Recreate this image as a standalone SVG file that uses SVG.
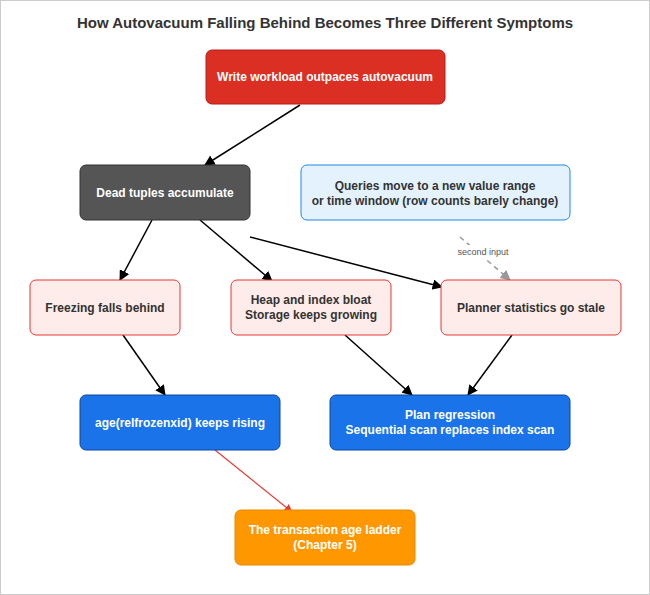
<svg xmlns="http://www.w3.org/2000/svg" width="650" height="595" viewBox="0 0 650 595">
<style>
text{font-family:"Liberation Sans",Arial,sans-serif;font-weight:bold;font-size:12px;text-anchor:middle}
.w{fill:#fff}.d{fill:#333}
.e{stroke:#000;stroke-width:1.5;fill:none;marker-end:url(#a)}
</style>
<defs>
<marker id="a" viewBox="0 0 10 10" refX="9" refY="5" markerWidth="7" markerHeight="7" orient="auto"><path d="M0,0L10,5L0,10z" fill="#000"/></marker>
<marker id="g" viewBox="0 0 10 10" refX="9" refY="5" markerWidth="7" markerHeight="7" orient="auto"><path d="M0,0L10,5L0,10z" fill="#999"/></marker>
<marker id="r" viewBox="0 0 10 10" refX="9" refY="5" markerWidth="7" markerHeight="7" orient="auto"><path d="M0,0L10,5L0,10z" fill="#e53935"/></marker>
</defs>
<rect x="0.5" y="0.5" width="649" height="594" fill="#fff" stroke="#ccc"/>
<text x="325" y="28" font-size="15" class="d" style="font-size:15px">How Autovacuum Falling Behind Becomes Three Different Symptoms</text>
<g id="connectors">
<path class="e" d="M300,105L205,165"/>
<path class="e" d="M152,220L120,280"/>
<path class="e" d="M200,220L272,281"/>
<path class="e" d="M250,237L442,287"/>
<path d="M460,237L510,280" stroke="#999" stroke-width="1.5" stroke-dasharray="5,4" fill="none" marker-end="url(#g)"/>
<rect x="452" y="245" width="62" height="13" fill="#fff"/>
<text x="483" y="255" style="font-weight:normal;font-size:9px;fill:#555">second input</text>
<path class="e" d="M123,335L165,395"/>
<path class="e" d="M345,335L412,395"/>
<path class="e" d="M512,335L468,395"/>
<path d="M215,450L292,512" stroke="#e53935" stroke-width="1.2" fill="none" marker-end="url(#r)"/>
</g>
<g id="n1"><rect x="206" y="50" width="239" height="54" rx="6" fill="#dc2f23" stroke="#b71c1c"/><text x="325" y="81" class="w">Write workload outpaces autovacuum</text></g>
<g id="n2"><rect x="80" y="165" width="170" height="55" rx="6" fill="#555" stroke="#333"/><text x="165" y="197" class="w">Dead tuples accumulate</text></g>
<g id="n3"><rect x="301" y="165" width="269" height="55" rx="6" fill="#e3f2fd" stroke="#1e88e5"/><text x="435" y="190" class="d">Queries move to a new value range</text><text x="435" y="205" class="d">or time window (row counts barely change)</text></g>
<g id="n4"><rect x="30" y="280" width="150" height="55" rx="6" fill="#fdecea" stroke="#e53935"/><text x="105" y="312" class="d">Freezing falls behind</text></g>
<g id="n5"><rect x="231" y="280" width="160" height="55" rx="6" fill="#fdecea" stroke="#e53935"/><text x="311" y="304" class="d">Heap and index bloat</text><text x="311" y="319" class="d">Storage keeps growing</text></g>
<g id="n6"><rect x="441" y="280" width="180" height="55" rx="6" fill="#fdecea" stroke="#e53935"/><text x="531" y="312" class="d">Planner statistics go stale</text></g>
<g id="n7"><rect x="80" y="395" width="200" height="55" rx="6" fill="#1a73e8" stroke="#0d47a1"/><text x="180" y="427" class="w">age(relfrozenxid) keeps rising</text></g>
<g id="n8"><rect x="330" y="395" width="240" height="55" rx="6" fill="#1a73e8" stroke="#0d47a1"/><text x="450" y="419" class="w">Plan regression</text><text x="450" y="434" class="w">Sequential scan replaces index scan</text></g>
<g id="n9"><rect x="235" y="510" width="180" height="55" rx="6" fill="#ff9800" stroke="#e68900"/><text x="325" y="534" class="w">The transaction age ladder</text><text x="325" y="549" class="w">(Chapter 5)</text></g>
</svg>
